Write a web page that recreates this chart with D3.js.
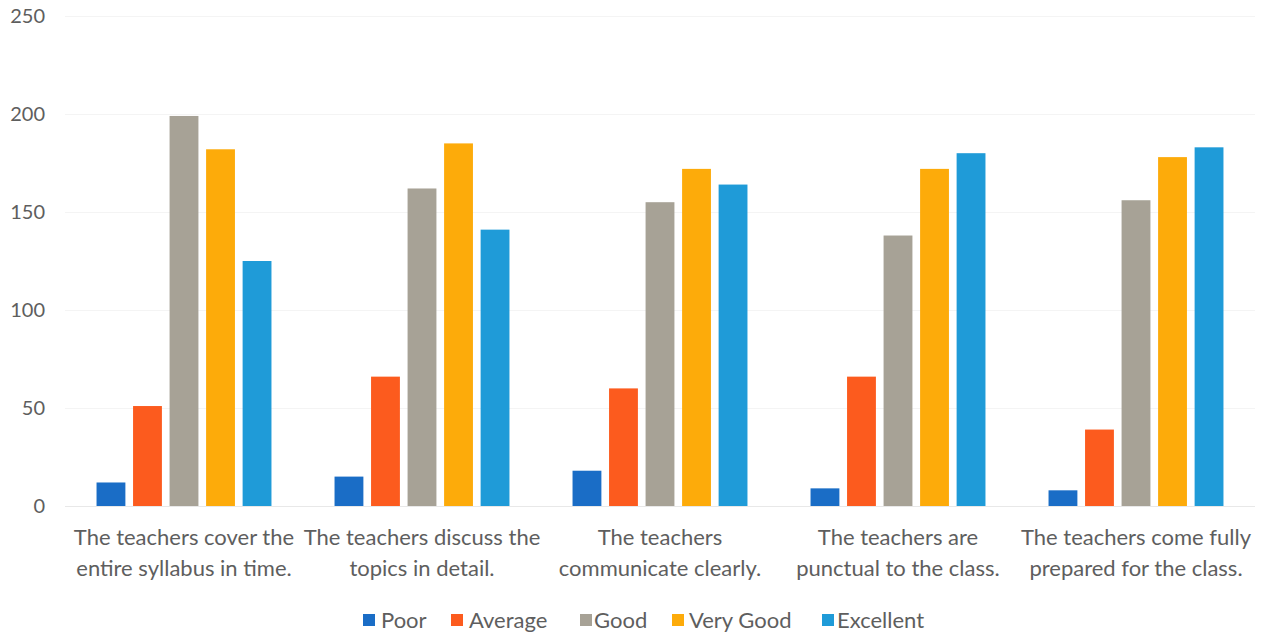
<!DOCTYPE html>
<html>
<head>
<meta charset="utf-8">
<script src="https://cdn.jsdelivr.net/npm/d3@7"></script>
<style>
  html, body { margin: 0; padding: 0; background: #ffffff; }
  svg { display: block; }
  text { font-family: Lato, "Open Sans", sans-serif; fill: #5e5e5e; }
</style>
</head>
<body>
<svg id="chart" width="1264" height="637"></svg>
<script>
// ---- data ----
const categories = [
  "The teachers cover the entire syllabus in time.",
  "The teachers discuss the topics in detail.",
  "The teachers communicate clearly.",
  "The teachers are punctual to the class.",
  "The teachers come fully prepared for the class."
];
const categoryLines = [
  ["The teachers cover the", "entire syllabus in time."],
  ["The teachers discuss the", "topics in detail."],
  ["The teachers", "communicate clearly."],
  ["The teachers are", "punctual to the class."],
  ["The teachers come fully", "prepared for the class."]
];
const seriesNames = ["Poor", "Average", "Good", "Very Good", "Excellent"];
const poor      = [12, 15, 18, 9, 8];
const average   = [51, 66, 60, 66, 39];
const good      = [199, 162, 155, 138, 156];
const veryGood  = [182, 185, 172, 172, 178];
const excellent = [125, 141, 164, 180, 183];
const yTicks = [0, 50, 100, 150, 200, 250];
const seriesColors = ["#1a6dc6", "#fc5b1e", "#a7a296", "#fdab0a", "#1f9bd8"];

const seriesValues = [poor, average, good, veryGood, excellent];

// ---- layout ----
const svg = d3.select("#chart");
const plotLeft = 65, plotRight = 1255, plotTop = 16, plotBottom = 506;

const x0 = d3.scaleBand()
  .domain(categories)
  .range([plotLeft, plotRight])
  .paddingInner(0.265)
  .paddingOuter(0.1325);

const x1 = d3.scaleBand()
  .domain(seriesNames)
  .range([0, x0.bandwidth()])
  .paddingInner(0.21)
  .paddingOuter(0);

const y = d3.scaleLinear().domain([0, 250]).range([plotBottom, plotTop]);

const color = d3.scaleOrdinal().domain(seriesNames).range(seriesColors);

// gridlines
svg.append("g")
  .selectAll("line")
  .data(yTicks)
  .join("line")
  .attr("x1", plotLeft)
  .attr("x2", plotRight)
  .attr("y1", d => Math.round(y(d)) + 0.5)
  .attr("y2", d => Math.round(y(d)) + 0.5)
  .attr("stroke", d => d === 0 ? "#e8e8e8" : "#f4f4f4")
  .attr("stroke-width", 1);

// y axis labels
const yAxis = d3.axisLeft(y).tickValues(yTicks).tickSize(0).tickPadding(0);
const yg = svg.append("g")
  .attr("transform", `translate(45,0)`)
  .call(yAxis);
yg.select(".domain").remove();
yg.selectAll("text")
  .style("font-family", "Lato, 'Open Sans', sans-serif")
  .style("font-size", "20px")
  .attr("fill", "#5e5e5e");

// bars
const data = categories.map((c, i) => ({
  cat: c,
  vals: seriesNames.map((s, j) => ({ s, v: seriesValues[j][i] }))
}));

const groups = svg.append("g")
  .selectAll("g")
  .data(data)
  .join("g")
  .attr("transform", d => `translate(${x0(d.cat)},0)`);

groups.selectAll("rect")
  .data(d => d.vals)
  .join("rect")
  .attr("x", d => x1(d.s))
  .attr("width", x1.bandwidth())
  .attr("y", d => y(d.v))
  .attr("height", d => y(0) - y(d.v))
  .attr("fill", d => color(d.s));

// category labels
const xg = svg.append("g");
categories.forEach((c, i) => {
  const cx = x0(c) + x0.bandwidth() / 2;
  const t = xg.append("text")
    .attr("x", cx)
    .attr("y", 545)
    .attr("text-anchor", "middle")
    .style("font-size", "22px");
  categoryLines[i].forEach((line, k) => {
    t.append("tspan")
      .attr("x", cx)
      .attr("dy", k === 0 ? 0 : 31)
      .text(line);
  });
});

// legend
const legendSquareX = [363, 451, 580, 672, 822];
const legendTextX = [381, 469, 594, 689, 837];
const lg = svg.append("g");
seriesNames.forEach((s, i) => {
  lg.append("rect")
    .attr("x", legendSquareX[i]).attr("y", 614)
    .attr("width", 12).attr("height", 12)
    .attr("fill", color(s));
  lg.append("text")
    .attr("x", legendTextX[i])
    .attr("y", 628)
    .style("font-size", "22px")
    .text(s);
});
</script>
</body>
</html>
